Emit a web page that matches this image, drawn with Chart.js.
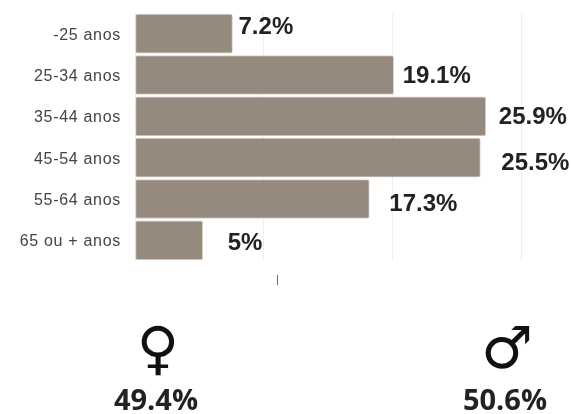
<!DOCTYPE html>
<html>
<head>
<meta charset="utf-8">
<style>html,body{margin:0;padding:0;background:#fff}#w{position:relative;width:571px;height:414px}canvas{display:block}</style>
<script src="https://cdn.jsdelivr.net/npm/chart.js@4"></script>
</head>
<body>
<div id="w"><canvas id="c" width="571" height="414"></canvas></div>
<script>
const categories = ['-25 anos','25-34 anos','35-44 anos','45-54 anos','55-64 anos','65 ou + anos'];
const shares = [7.2,19.1,25.9,25.5,17.3,5];
const shareLabels = ['7.2%','19.1%','25.9%','25.5%','17.3%','5%'];
const labelGapX = [6,9,13,21,20,25];
const labelShiftY = [-6,1.5,1.5,5.5,5.5,3.5];
const genderSymbols = ['♀','♂'];
const genderValues = ['49.4%','50.6%'];
const genderX = [158,507];
const genderTextX = [156,505];

const overlay = {
  id:'overlay',
  beforeDraw(chart){
    const ctx = chart.ctx;
    ctx.letterSpacing = '0.7px';
    const y = chart.scales.y;
    if(!y._shifted){
      const orig = y.drawLabels.bind(y);
      y.drawLabels = (area)=>{ ctx.save(); ctx.translate(0,1.5); orig(area); ctx.restore(); };
      y._shifted = true;
    }
  },
  afterDatasetsDraw(chart){
    const ctx = chart.ctx;
    ctx.letterSpacing = '0px';
    const meta = chart.getDatasetMeta(0);
    ctx.save();
    ctx.fillStyle = '#222';
    ctx.textAlign = 'left';
    ctx.textBaseline = 'middle';
    ctx.font = 'bold 24px "Liberation Sans"';
    meta.data.forEach((bar,i)=>{
      ctx.fillText(shareLabels[i], bar.x + labelGapX[i], bar.y + labelShiftY[i]);
    });
    ctx.textAlign = 'center';
    ctx.fillStyle = '#555';
    ctx.font = '11px "Liberation Sans"';
    ctx.fillText('|', 277.5, 280);
    genderSymbols.forEach((s,i)=>{
      ctx.fillStyle = '#111';
      ctx.font = '58px "DejaVu Sans"';
      ctx.fillText(s, genderX[i], 353);
      ctx.font = 'bold 29px "Open Sans"';
      ctx.fillStyle = '#222';
      ctx.fillText(genderValues[i], genderTextX[i], 402);
    });
    ctx.restore();
  }
};

new Chart(document.getElementById('c'),{
  type:'bar',
  data:{labels:categories,datasets:[{data:shares,backgroundColor:'#968a7e',borderColor:'#d9d4ce',borderWidth:1,borderSkipped:false,borderRadius:2,barThickness:39}]},
  options:{
    indexAxis:'y',responsive:false,animation:false,devicePixelRatio:1,
    layout:{padding:{top:13,right:50,bottom:153,left:0}},
    plugins:{legend:{display:false},tooltip:{enabled:false},title:{display:false}},
    scales:{
      x:{min:0,max:28.5,ticks:{display:false,stepSize:9.5},grid:{color:'#eeeeee',drawTicks:false},border:{display:false}},
      y:{afterFit(s){s.width=135;s.paddingTop=0;s.paddingBottom=0;},grid:{display:false},border:{display:false},
         ticks:{color:'#444',padding:6,font:{family:'"Liberation Sans"',size:16}}}
    }
  },
  plugins:[overlay]
});
</script>
</body>
</html>
